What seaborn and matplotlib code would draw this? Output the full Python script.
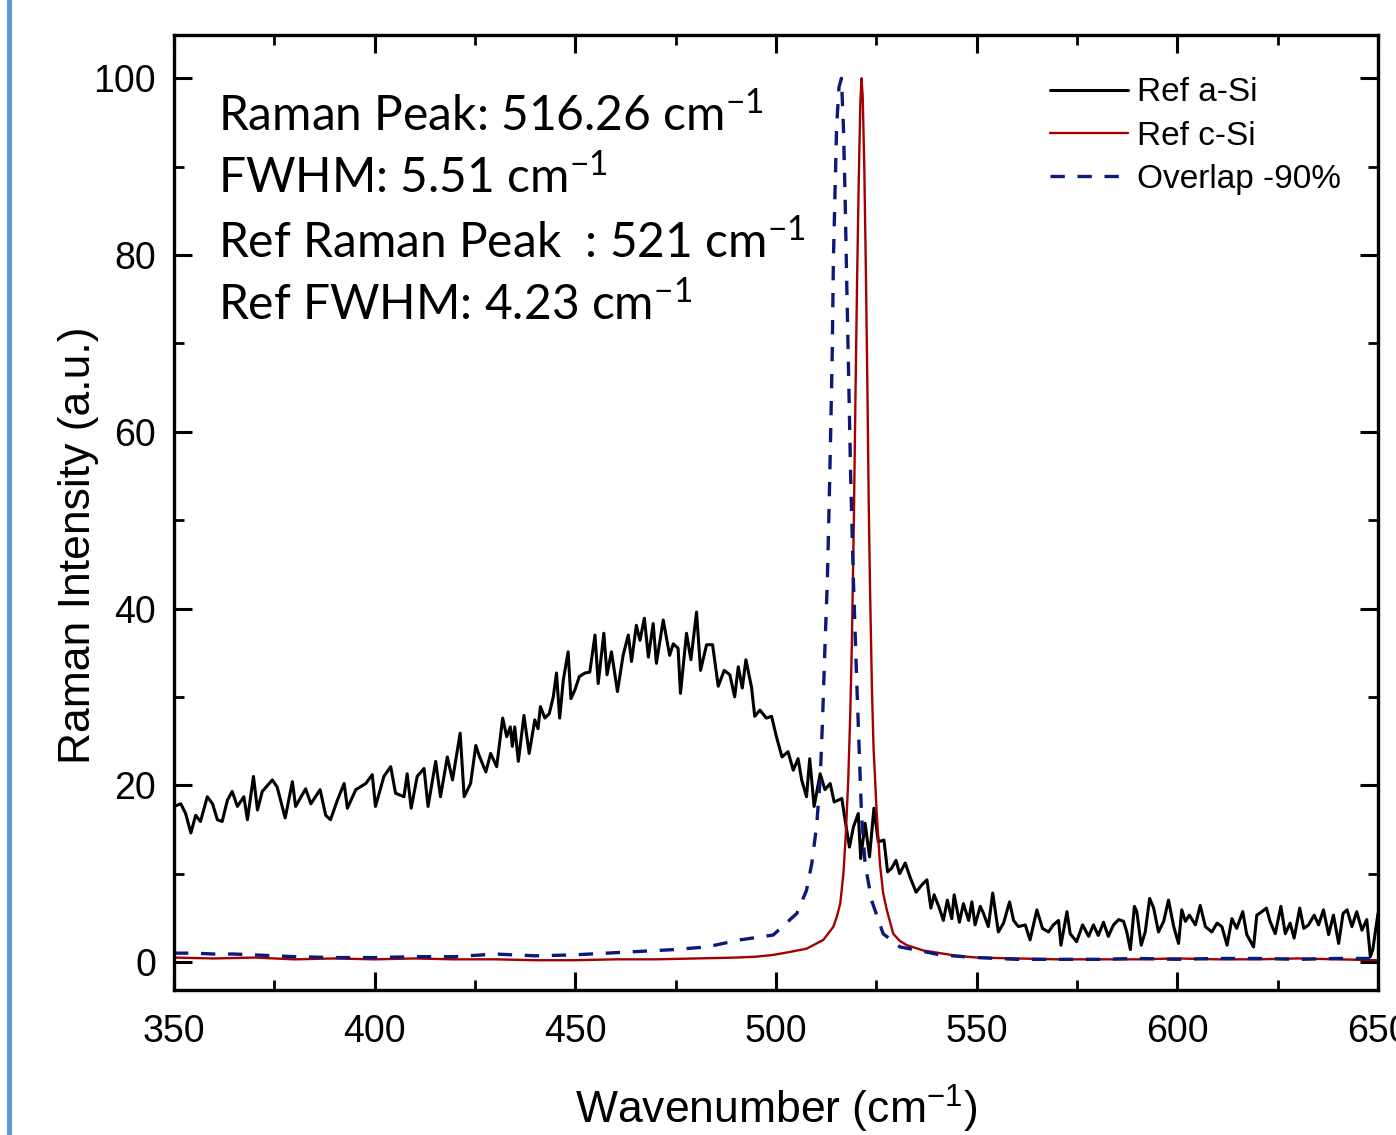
import numpy as np
import pandas as pd
import matplotlib
matplotlib.use("Agg")
import matplotlib.pyplot as plt
import seaborn as sns
from matplotlib.patches import Rectangle
from matplotlib.ticker import MultipleLocator

# ---------------- data ----------------
asi_wn = [350.0, 351.7, 352.9, 354.2, 355.4, 356.6, 358.3, 359.6, 360.8, 362.0, 363.3, 364.5,
          365.8, 367.4, 368.3, 369.8, 370.8, 372.0, 374.5, 375.7, 377.7, 379.5, 380.3, 382.8,
          384.1, 386.4, 387.8, 389.0, 390.7, 392.4, 393.2, 395.3, 397.8, 399.4, 400.2, 402.3,
          404.0, 405.2, 407.3, 408.1, 409.1, 410.6, 412.3, 413.3, 415.2, 416.4, 418.1, 419.4,
          421.3, 422.3, 423.9, 425.2, 426.0, 427.7, 428.9, 430.4, 431.9,
          432.9, 433.8, 434.3, 434.9, 435.8, 437.2, 438.5, 439.9, 440.7, 441.3, 442.4, 443.5,
          444.5, 445.3, 446.1, 447.0, 448.2, 448.9, 449.9, 451.0, 452.4, 453.6, 454.9, 455.7,
          457.1, 457.9, 459.0, 460.5, 461.9, 463.2, 464.0, 465.2, 466.1, 467.2, 468.2, 469.4,
          470.2, 471.9, 473.5, 474.4, 475.6, 476.2, 477.7, 478.8, 480.2, 481.2, 482.7, 484.2,
          485.6, 487.1, 488.5, 489.7, 490.6, 491.6, 492.5, 493.9, 494.7, 496.0, 497.6, 498.9,
          500.1, 501.5, 503.0, 504.3, 505.5, 506.4, 507.6, 508.4,
          509.5, 511.0, 512.2, 513.5, 514.5, 516.4, 517.2, 518.3, 519.3, 520.5, 521.1, 522.2,
          523.3, 524.4, 525.5, 526.9, 527.8, 528.8, 529.9, 530.8, 532.2, 533.4, 534.9, 536.3,
          537.6, 538.6, 539.4, 540.7, 541.7, 542.7, 543.8, 544.4, 545.7, 546.7, 548.0, 548.8,
          549.6, 550.9, 551.7, 552.9, 554.0, 555.4, 556.7, 558.2, 559.2, 560.4, 562.1, 563.3,
          565.0, 566.4, 567.9, 569.1, 570.4, 571.0, 572.5, 573.3, 574.9, 576.4, 577.9, 579.1,
          580.3, 581.6, 582.8,
          584.1, 585.4, 586.6, 587.4, 588.3, 589.3, 589.9, 591.0, 592.0, 593.1, 594.1, 595.3,
          596.6, 597.8, 599.1, 600.3, 601.1, 602.0, 603.0, 604.5, 605.7, 607.0, 608.6, 609.9,
          611.1, 612.4, 613.6, 614.8, 616.3, 617.3, 619.0, 619.8, 621.1, 622.2, 623.1, 624.4,
          625.8, 626.9, 628.1, 629.1, 630.5, 631.5, 632.7, 634.1, 635.2, 636.4, 637.7, 638.9,
          640.2, 641.3, 642.3, 643.5, 644.7, 646.0, 647.2, 648.1, 648.7, 650.0]
asi_int = [17.6, 17.9, 16.8, 14.6, 16.6, 15.9, 18.7, 17.9, 16.1, 15.9, 18.3, 19.3,
           17.6, 18.7, 16.1, 21.0, 17.2, 19.3, 20.6, 19.8, 16.3, 20.4, 17.6, 19.6,
           17.9, 19.5, 16.6, 16.1, 18.3, 20.2, 17.4, 19.5, 20.2, 21.2, 17.6, 21.0,
           22.1, 19.1, 18.7, 21.3, 17.4, 21.0, 21.9, 17.6, 22.7, 18.7, 23.2, 20.6,
           25.9, 18.7, 20.2, 24.5, 23.4, 21.5, 23.6, 22.1, 27.6,
           25.5, 26.6, 24.4, 26.6, 22.7, 27.9, 23.6, 27.4, 26.4, 28.9, 27.6, 28.1,
           30.0, 32.7, 27.6, 31.9, 35.1, 29.8, 30.8, 32.3, 32.7, 32.8, 37.0, 31.5,
           37.2, 32.5, 35.1, 30.6, 34.7, 37.0, 34.0, 38.1, 36.4, 38.9, 34.5, 38.3,
           33.8, 38.7, 34.7, 36.0, 35.5, 30.4, 37.2, 34.2, 39.6, 33.0, 35.9, 35.9,
           31.2, 33.0, 32.5, 30.0, 33.4, 31.0, 34.2, 31.1, 27.8, 28.5, 27.6, 27.8,
           25.5, 23.2, 23.8, 21.7, 23.0, 20.6, 18.7, 23.0,
           17.6, 21.3, 19.5, 20.2, 18.1, 18.5, 16.1, 13.0, 15.3, 16.8, 11.7, 15.7,
           11.9, 17.4, 13.6, 13.8, 10.2, 10.6, 11.5, 10.0, 11.2, 9.6, 7.9, 8.7,
           9.3, 6.1, 7.6, 6.1, 4.7, 7.0, 4.9, 7.6, 4.5, 6.6, 4.7, 6.8,
           4.2, 6.3, 5.5, 4.0, 7.8, 3.4, 4.4, 6.8, 4.7, 4.0, 4.2, 2.5,
           5.9, 3.8, 3.4, 4.2, 4.7, 1.9, 5.7, 3.2, 2.3, 4.2, 2.9, 4.2,
           3.0, 4.5, 2.9,
           4.2, 4.8, 4.6, 3.4, 1.4, 6.3, 5.7, 1.9, 3.4, 7.2, 6.1, 3.4,
           4.6, 7.0, 4.0, 2.1, 5.9, 4.6, 5.3, 4.2, 6.4, 4.0, 3.4, 4.4,
           4.0, 1.9, 4.9, 3.8, 5.7, 3.1, 1.7, 5.3, 5.7, 6.1, 4.6, 3.2,
           6.3, 3.2, 4.4, 2.7, 6.1, 3.8, 4.2, 5.3, 4.2, 5.9, 3.1, 5.3,
           2.1, 5.5, 5.9, 4.0, 5.7, 3.6, 4.8, 0.6, 1.4, 5.5]

csi_wn = [350, 360, 370, 380, 390, 400, 410, 420, 430, 440, 450, 460, 470, 480, 490, 495,
          499.3, 503.0, 507.6, 511.8, 514.3, 515.2, 516.0, 516.8, 517.4, 518.0, 518.5, 518.9,
          519.4, 519.8, 520.2, 520.6, 521.0, 521.3, 521.6, 522.0, 522.4, 522.8, 523.1, 523.4,
          523.9, 524.3, 525.1, 525.9, 526.7, 527.6, 529.2, 530.8, 532.6, 536.7, 540.9, 545,
          550, 560, 570, 580, 590, 600, 610, 620, 630, 640, 650]
csi_int = [0.5, 0.4, 0.5, 0.3, 0.4, 0.3, 0.4, 0.3, 0.3, 0.2, 0.2, 0.3, 0.3, 0.4, 0.5, 0.6,
           0.8, 1.1, 1.5, 2.5, 4.0, 5.2, 6.6, 10.0, 14.5, 20.6, 28.0, 36.0,
           50.0, 64.0, 77.0, 88.0, 97.0, 100.0, 98.0, 90.0, 78.0, 64.0, 52.0, 43.0,
           31.0, 24.3, 16.8, 11.1, 7.8, 5.9, 3.2, 2.4, 1.9, 1.3, 1.0, 0.7,
           0.5, 0.4, 0.3, 0.3, 0.3, 0.4, 0.3, 0.3, 0.4, 0.3, 0.2]

ovl_wn = [350, 355, 360, 365, 370, 375, 380, 390, 400, 410, 420, 430, 440, 449.5, 457.8,
          466.1, 474.4, 482.7, 491.0, 499.3, 505.2, 507.6, 508.9, 510.1, 511.0, 511.6, 512.2,
          512.8, 513.4, 514.0, 514.3, 514.7, 515.1, 515.7, 516.3, 516.8, 517.2, 517.6, 518.0,
          518.6, 519.3, 520.1, 521.3, 522.2, 523.8, 526.7, 530.9, 536.7, 540.9, 550, 560, 570,
          580, 590, 600, 610, 620, 630, 640, 650]
ovl_int = [1.0, 1.0, 0.9, 0.9, 0.8, 0.7, 0.6, 0.5, 0.5, 0.6, 0.6, 0.9, 0.7, 0.8, 1.0,
           1.2, 1.4, 1.7, 2.5, 3.05, 5.5, 8.1, 11.1, 15.3, 20.6, 27.4, 35.7,
           43.2, 55.0, 68.5, 79.4, 87.0, 94.5, 99.0, 100.0, 94.5, 87.0, 77.5, 68.5,
           55.0, 43.0, 31.9, 16.8, 11.1, 7.0, 3.2, 1.7, 1.2, 0.8, 0.5, 0.3, 0.3,
           0.3, 0.4, 0.3, 0.4, 0.4, 0.3, 0.4, 0.4]

series_labels = ["Ref a-Si", "Ref c-Si", "Overlap -90%"]
annotation_lines = [r"Raman Peak: 516.26 cm$^{-1}$",
                    r"FWHM: 5.51 cm$^{-1}$",
                    r"Ref Raman Peak  : 521 cm$^{-1}$",
                    r"Ref FWHM: 4.23 cm$^{-1}$"]
x_ticks = [350, 400, 450, 500, 550, 600, 650]
y_ticks = [0, 20, 40, 60, 80, 100]

# ---------------- style ----------------
sns.set_theme(style="ticks")
plt.rcParams["font.family"] = ["Liberation Sans", "DejaVu Sans"]
plt.rcParams["mathtext.fontset"] = "custom"
plt.rcParams["mathtext.rm"] = "Liberation Sans"
plt.rcParams["mathtext.it"] = "Liberation Sans"
plt.rcParams["mathtext.default"] = "regular"
plt.rcParams["text.color"] = "black"
plt.rcParams["xtick.labelcolor"] = "black"
plt.rcParams["ytick.labelcolor"] = "black"

W, H = 1396, 1135
fig = plt.figure(figsize=(W / 100, H / 100), dpi=100)
fig.patch.set_facecolor("white")
L, R, T, B = 174, 1378, 35, 990
ax = fig.add_axes([L / W, (H - B) / H, (R - L) / W, (B - T) / H])
ax.set_facecolor("white")

df_a = pd.DataFrame({"wn": asi_wn, "I": asi_int})
df_c = pd.DataFrame({"wn": csi_wn, "I": csi_int})
df_o = pd.DataFrame({"wn": ovl_wn, "I": ovl_int})

sns.lineplot(data=df_a, x="wn", y="I", ax=ax, color="black", linewidth=2.2,
             estimator=None, sort=False, label=series_labels[0])
sns.lineplot(data=df_c, x="wn", y="I", ax=ax, color="#a30000", linewidth=1.7,
             estimator=None, sort=False, label=series_labels[1])
sns.lineplot(data=df_o, x="wn", y="I", ax=ax, color="#0b1a78", linewidth=2.4,
             estimator=None, sort=False, label=series_labels[2], linestyle="--")
ax.lines[2].set_dashes((4.3, 3.8))

ax.set_xlim(350, 650)
ax.set_ylim(-3.17, 104.9)
ax.set_xticks(x_ticks)
ax.set_yticks(y_ticks)
ax.xaxis.set_minor_locator(MultipleLocator(25))
ax.yaxis.set_minor_locator(MultipleLocator(10))
ax.tick_params(which="both", direction="in", top=True, right=True, color="black",
               labelcolor="black")
ax.tick_params(which="major", length=13, width=2.2, labelsize=27)
ax.tick_params(which="minor", length=7, width=2.0)
ax.tick_params(axis="x", which="major", pad=17)
ax.tick_params(axis="y", which="major", pad=13)
for s in ax.spines.values():
    s.set_linewidth(2.4)
    s.set_color("black")

ax.set_xlabel(r"Wavenumber (cm$^{-1}$)", fontsize=32, color="black")
ax.set_ylabel("Raman Intensity (a.u.)", fontsize=32, color="black")
ax.xaxis.set_label_coords(0.5, -0.097)
ax.yaxis.set_label_coords(-0.062, 0.466)

leg = ax.legend(loc="upper left", bbox_to_anchor=(0.7276, 0.9557), frameon=False,
                fontsize=24, handlelength=2.35, handletextpad=0.25, labelspacing=0.37,
                borderpad=0, borderaxespad=0)
for t in leg.get_texts():
    t.set_color("black")

ys = [0.9005, 0.8346, 0.7665, 0.7016]
for txt, yy in zip(annotation_lines, ys):
    ax.text(0.0365, yy, txt, transform=ax.transAxes, fontsize=34.5, color="black",
            family=["Lato", "DejaVu Sans"], va="baseline", ha="left")

fig.add_artist(Rectangle((7 / W, 0), 5 / W, 1, transform=fig.transFigure,
                         color="#5b9bd5", lw=0))

fig.savefig("out.png", dpi=100, facecolor="white")
